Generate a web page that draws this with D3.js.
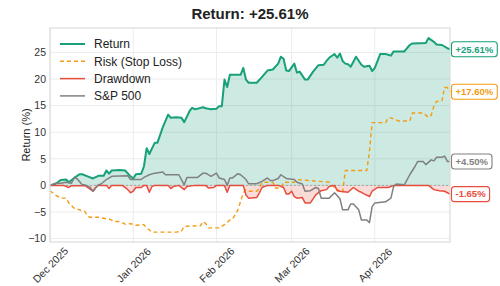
<!DOCTYPE html>
<html>
<head>
<meta charset="utf-8">
<script src="https://cdn.jsdelivr.net/npm/d3@7"></script>
<style>
  body { margin: 0; background: #fff; }
  text { font-family: "Liberation Sans", Arial, sans-serif; }
</style>
</head>
<body>
<div id="chart-area"></div>
<script>
// Series values: [date, %]
const returnData = [
  ["2025-12-01",0],["2025-12-03",0.25],["2025-12-05",1.0],["2025-12-07",1.1],["2025-12-08",0.6],
  ["2025-12-10",1.4],["2025-12-12",2.1],["2025-12-13",2.1],["2025-12-15",1.7],["2025-12-17",1.3],
  ["2025-12-19",1.8],["2025-12-21",1.8],["2025-12-22",2.8],["2025-12-23",2.2],["2025-12-24",2.8],
  ["2025-12-27",2.9],["2025-12-29",2.8],["2025-12-31",1.7],["2026-01-01",1.3],["2026-01-02",2.1],
  ["2026-01-04",2.2],["2026-01-05",3.6],["2026-01-06",7.0],["2026-01-07",5.9],["2026-01-09",8.0],
  ["2026-01-10",8.0],["2026-01-12",10.9],["2026-01-14",13.3],["2026-01-15",12.7],["2026-01-17",12.8],
  ["2026-01-19",12.7],["2026-01-20",11.9],["2026-01-22",14.0],["2026-01-23",14.6],["2026-01-24",14.3],
  ["2026-01-27",14.7],["2026-01-28",14.5],["2026-01-30",14.3],["2026-02-01",14.4],["2026-02-02",14.9],
  ["2026-02-03",14.9],["2026-02-04",19.9],["2026-02-05",18.5],["2026-02-06",20.8],["2026-02-10",20.8],
  ["2026-02-11",22.1],["2026-02-12",19.9],["2026-02-13",19.3],["2026-02-16",19.3],["2026-02-18",20.4],
  ["2026-02-20",21.6],["2026-02-22",21.8],["2026-02-24",22.9],["2026-02-25",24.2],["2026-02-26",23.8],
  ["2026-02-27",21.6],["2026-02-28",21.5],["2026-03-02",22.9],["2026-03-03",21.2],["2026-03-04",21.4],
  ["2026-03-06",19.9],["2026-03-07",19.9],["2026-03-09",21.4],["2026-03-11",22.6],["2026-03-13",22.7],
  ["2026-03-14",23.4],["2026-03-15",24.0],["2026-03-17",24.7],["2026-03-18",24.0],["2026-03-19",24.8],
  ["2026-03-20",23.4],["2026-03-21",22.9],["2026-03-22",22.8],["2026-03-23",22.3],["2026-03-25",24.2],
  ["2026-03-27",22.7],["2026-03-28",22.3],["2026-03-30",22.5],["2026-03-31",21.5],["2026-04-01",22.1],
  ["2026-04-03",24.7],["2026-04-05",24.7],["2026-04-07",24.4],["2026-04-08",25.2],["2026-04-12",25.2],
  ["2026-04-14",26.4],["2026-04-15",26.7],["2026-04-20",26.8],["2026-04-21",27.7],["2026-04-23",27.0],
  ["2026-04-24",26.5],["2026-04-26",26.4],["2026-04-28",25.8],["2026-04-29",25.61]
];

const riskData = [
  ["2025-12-01",-1.0],["2025-12-03",-1.8],["2025-12-05",-2.4],["2025-12-07",-2.4],["2025-12-08",-3.3],
  ["2025-12-10",-4.3],["2025-12-11",-4.4],["2025-12-13",-4.8],["2025-12-14",-4.9],["2025-12-15",-5.8],
  ["2025-12-16",-6.0],["2025-12-19",-6.0],["2025-12-22",-6.3],["2025-12-23",-6.3],["2025-12-25",-6.8],
  ["2025-12-27",-6.8],["2025-12-29",-7.3],["2025-12-31",-7.2],["2026-01-02",-7.5],["2026-01-05",-7.4],
  ["2026-01-06",-8.0],["2026-01-08",-8.8],["2026-01-14",-8.8],["2026-01-17",-8.8],["2026-01-19",-8.6],
  ["2026-01-20",-7.7],["2026-01-26",-7.6],["2026-01-27",-6.8],["2026-01-28",-7.2],["2026-01-29",-8.0],
  ["2026-02-02",-8.0],["2026-02-04",-7.4],["2026-02-06",-6.5],["2026-02-07",-6.3],["2026-02-08",-5.5],
  ["2026-02-09",-4.6],["2026-02-10",-3.0],["2026-02-11",-1.4],["2026-02-12",-0.8],["2026-02-13",-1.1],
  ["2026-02-16",-1.1],["2026-02-17",-0.5],["2026-02-18",0.6],["2026-02-22",0.6],["2026-02-23",-0.5],
  ["2026-02-25",-0.5],["2026-02-26",0.6],["2026-03-02",0.6],["2026-03-03",1.1],["2026-03-15",0.6],
  ["2026-03-17",-0.4],["2026-03-19",-1.1],["2026-03-20",-1.4],["2026-03-21",2.8],["2026-03-29",2.8],
  ["2026-03-30",6.4],["2026-03-31",11.8],["2026-04-05",11.8],["2026-04-06",12.7],["2026-04-07",12.7],
  ["2026-04-10",12.1],["2026-04-14",12.1],["2026-04-15",13.6],["2026-04-19",13.6],["2026-04-21",12.8],
  ["2026-04-22",13.2],["2026-04-23",14.9],["2026-04-24",15.8],["2026-04-26",15.9],["2026-04-27",18.4],
  ["2026-04-28",18.4],["2026-04-29",17.6]
];

const drawdownData = [
  ["2025-12-01",0],["2025-12-06",0],["2025-12-08",-0.4],["2025-12-09",-0.05],["2025-12-14",-0.05],
  ["2025-12-15",-0.4],["2025-12-17",-1.1],["2025-12-18",-0.4],["2025-12-19",0],["2025-12-22",0],
  ["2025-12-23",-0.6],["2025-12-24",0],["2025-12-28",0],["2025-12-30",-0.8],["2025-12-31",-1.4],
  ["2026-01-01",-1.1],["2026-01-02",-0.4],["2026-01-04",-0.4],["2026-01-05",0],["2026-01-06",0],
  ["2026-01-07",-1.3],["2026-01-08",-0.2],["2026-01-09",0],["2026-01-14",0],["2026-01-15",-0.6],
  ["2026-01-16",-0.2],["2026-01-18",0],["2026-01-20",-0.8],["2026-01-21",-0.2],["2026-01-24",0],
  ["2026-01-28",0],["2026-01-29",-0.5],["2026-01-31",-0.4],["2026-02-01",0],["2026-02-04",0],
  ["2026-02-05",-1.3],["2026-02-06",0],["2026-02-11",0],["2026-02-12",-1.8],["2026-02-13",-2.4],
  ["2026-02-16",-2.3],["2026-02-17",-1.4],["2026-02-18",-0.4],["2026-02-20",0],["2026-02-24",0],
  ["2026-02-26",-0.4],["2026-02-27",-1.6],["2026-02-28",-1.6],["2026-03-01",-1.1],["2026-03-02",-2.1],
  ["2026-03-03",-2.4],["2026-03-05",-2.3],["2026-03-06",-3.3],["2026-03-08",-3.3],["2026-03-10",-1.8],
  ["2026-03-12",-1.0],["2026-03-14",-0.8],["2026-03-15",-0.2],["2026-03-17",0],["2026-03-18",-1.0],
  ["2026-03-19",-1.1],["2026-03-22",-1.3],["2026-03-24",-0.4],["2026-03-26",-1.1],["2026-03-27",-1.3],
  ["2026-03-28",-1.6],["2026-03-30",-2.1],["2026-03-31",-1.1],["2026-04-02",-0.4],["2026-04-06",-0.4],
  ["2026-04-08",0],["2026-04-21",0],["2026-04-23",-0.8],["2026-04-25",-1.0],["2026-04-27",-1.1],
  ["2026-04-29",-1.65]
];

const spData = [
  ["2025-12-01",0],["2025-12-03",0.4],["2025-12-05",0.4],["2025-12-07",0.6],["2025-12-09",0.4],
  ["2025-12-10",1.4],["2025-12-11",1.3],["2025-12-13",0.1],["2025-12-14",0.1],["2025-12-16",-0.4],
  ["2025-12-17",-1.1],["2025-12-19",0.1],["2025-12-20",0.25],["2025-12-22",1.1],["2025-12-24",1.7],
  ["2025-12-30",1.8],["2025-12-31",1.1],["2026-01-04",1.1],["2026-01-05",1.5],["2026-01-07",2.0],
  ["2026-01-09",2.3],["2026-01-12",2.5],["2026-01-13",2.0],["2026-01-18",2.0],["2026-01-20",0.1],
  ["2026-01-21",1.5],["2026-01-25",1.5],["2026-01-27",2.3],["2026-01-28",2.3],["2026-01-30",1.7],
  ["2026-02-01",2.3],["2026-02-02",1.4],["2026-02-04",1.1],["2026-02-05",0.0],["2026-02-06",1.4],
  ["2026-02-07",1.4],["2026-02-09",2.2],["2026-02-10",2.0],["2026-02-12",1.1],["2026-02-13",0.3],
  ["2026-02-16",0.3],["2026-02-18",0.75],["2026-02-20",1.4],["2026-02-21",0.9],["2026-02-22",0.9],
  ["2026-02-24",1.3],["2026-02-25",2.0],["2026-02-27",1.3],["2026-03-02",1.1],["2026-03-03",0.6],
  ["2026-03-05",0.25],["2026-03-06",-1.1],["2026-03-08",-1.0],["2026-03-10",-0.4],["2026-03-11",-0.6],
  ["2026-03-12",-2.4],["2026-03-15",-2.4],["2026-03-17",-1.4],["2026-03-19",-2.5],["2026-03-20",-4.6],
  ["2026-03-22",-4.6],["2026-03-23",-3.5],["2026-03-24",-3.5],["2026-03-26",-4.6],["2026-03-27",-6.5],
  ["2026-03-29",-6.5],["2026-03-30",-7.0],["2026-03-31",-4.0],["2026-04-01",-3.3],["2026-04-05",-3.1],
  ["2026-04-07",-2.4],["2026-04-08",-0.2],["2026-04-09",0.25],["2026-04-12",0.1],["2026-04-14",2.0],
  ["2026-04-16",3.6],["2026-04-17",4.5],["2026-04-19",4.5],["2026-04-20",3.9],["2026-04-22",4.8],
  ["2026-04-23",4.6],["2026-04-24",5.3],["2026-04-26",5.3],["2026-04-27",5.5],["2026-04-28",4.5],
  ["2026-04-29",4.5]
];

const seriesNames = ["Return", "Risk (Stop Loss)", "Drawdown", "S&P 500"];
const yTicks = [-10, -5, 0, 5, 10, 15, 20, 25];
const xTicks = ["2025-12-01", "2026-01-01", "2026-02-01", "2026-03-01", "2026-04-01"];
const titleText = "Return: +25.61%";

// Canvas and margins
const margin = { top: 28, right: 50, bottom: 44, left: 50 };
const width = 500 - margin.left - margin.right;
const height = 286 - margin.top - margin.bottom;

const svg = d3.select("#chart-area")
  .append("svg")
  .attr("width", 500)
  .attr("height", 286);

const g = svg.append("g")
  .attr("transform", `translate(${margin.left}, ${margin.top})`);

const parseDate = d3.timeParse("%Y-%m-%d");
const prep = arr => arr.map(d => ({ date: parseDate(d[0]), value: d[1] }));

const series = [
  { name: seriesNames[0], color: "#17a07a", width: 2, dash: null, data: prep(returnData) },
  { name: seriesNames[1], color: "#f39c12", width: 1.4, dash: "4,3", data: prep(riskData) },
  { name: seriesNames[2], color: "#e74c3c", width: 1.5, dash: null, data: prep(drawdownData) },
  { name: seriesNames[3], color: "#808080", width: 1.5, dash: null, data: prep(spData) }
];

// Scales
const x = d3.scaleTime()
  .domain(d3.extent(series[0].data, d => d.date))
  .range([0, width]);
const y = d3.scaleLinear()
  .domain([-10.65, 29.6])
  .range([height, 0]);

// Grid
g.append("g").selectAll("line")
  .data(yTicks).enter().append("line")
  .attr("x1", 0).attr("x2", width)
  .attr("y1", d => y(d)).attr("y2", d => y(d))
  .attr("stroke", "#ececec");
g.append("g").selectAll("line")
  .data(xTicks.map(parseDate)).enter().append("line")
  .attr("x1", d => x(d)).attr("x2", d => x(d))
  .attr("y1", 0).attr("y2", height)
  .attr("stroke", "#ececec");

// Area fills
const area = d3.area()
  .x(d => x(d.date))
  .y0(y(0))
  .y1(d => y(d.value));

g.append("path")
  .datum(series[0].data)
  .attr("d", area)
  .attr("fill", "rgba(23,160,122,0.22)");
g.append("path")
  .datum(series[2].data)
  .attr("d", area)
  .attr("fill", "rgba(231,76,60,0.2)");

// Zero line
g.append("line")
  .attr("x1", 0).attr("x2", width)
  .attr("y1", y(0)).attr("y2", y(0))
  .attr("stroke", "#999")
  .attr("stroke-width", 0.8)
  .attr("stroke-dasharray", "2,2");

// Lines
const line = d3.line()
  .x(d => x(d.date))
  .y(d => y(d.value));

series.forEach(s => {
  g.append("path")
    .datum(s.data)
    .attr("d", line)
    .attr("fill", "none")
    .attr("stroke", s.color)
    .attr("stroke-width", s.width)
    .attr("stroke-linejoin", "round")
    .attr("stroke-dasharray", s.dash);
});

// Frame
g.append("rect")
  .attr("width", width).attr("height", height)
  .attr("fill", "none")
  .attr("stroke", "#dcdcdc")
  .attr("stroke-width", 1.2);

// Axes
const yAxis = g.append("g")
  .call(d3.axisLeft(y).tickValues(yTicks).tickSize(0).tickPadding(4));
yAxis.select(".domain").remove();
yAxis.selectAll("text")
  .attr("font-size", 10.5)
  .attr("fill", "#333");

const xAxis = g.append("g")
  .attr("transform", `translate(0, ${height})`)
  .call(d3.axisBottom(x).tickValues(xTicks.map(parseDate)).tickSize(0).tickFormat(d3.timeFormat("%b %Y")));
xAxis.select(".domain").remove();
xAxis.selectAll("text")
  .attr("font-size", 10.5)
  .attr("fill", "#333")
  .attr("y", 0)
  .attr("dy", "0.35em")
  .attr("text-anchor", "middle")
  .attr("transform", "translate(0, 23) rotate(-45)");

// Axis title
g.append("text")
  .attr("transform", `translate(-20, ${height / 2}) rotate(-90)`)
  .attr("text-anchor", "middle")
  .attr("font-size", 11)
  .attr("fill", "#222")
  .text("Return (%)");

// Title
svg.append("text")
  .attr("x", 250)
  .attr("y", 19)
  .attr("text-anchor", "middle")
  .attr("font-size", 15)
  .attr("font-weight", "bold")
  .attr("fill", "#222")
  .text(titleText);

// Legend
const legend = g.append("g")
  .attr("transform", "translate(10, 16)");

const legendGroup = legend.selectAll(".legendGroup")
  .data(series)
  .enter().append("g")
  .attr("class", "legendGroup")
  .attr("transform", (d, i) => `translate(0, ${i * 17.3})`);

legendGroup.append("line")
  .attr("x1", 0).attr("x2", 25)
  .attr("stroke", d => d.color)
  .attr("stroke-width", d => d.width)
  .attr("stroke-dasharray", d => d.dash);

legendGroup.append("text")
  .attr("x", 34)
  .attr("dy", "0.35em")
  .attr("font-size", 12)
  .attr("fill", "#222")
  .text(d => d.name);

// End value labels
const fmt = v => (v >= 0 ? "+" : "") + v.toFixed(2) + "%";
series.forEach(s => {
  const last = s.data[s.data.length - 1];
  const lab = g.append("g")
    .attr("transform", `translate(${width + 1.5}, ${y(last.value)})`);
  const rect = lab.append("rect");
  const t = lab.append("text")
    .attr("x", 4)
    .attr("dy", "0.35em")
    .attr("font-size", 9.5)
    .attr("font-weight", "bold")
    .attr("fill", s.color)
    .text(fmt(last.value));
  const w = t.node().getComputedTextLength() + 8;
  rect.attr("x", 0).attr("y", -7.5)
    .attr("width", w).attr("height", 15)
    .attr("rx", 3)
    .attr("fill", "#fff")
    .attr("stroke", s.color)
    .attr("stroke-width", 1.1);
});
</script>
</body>
</html>
